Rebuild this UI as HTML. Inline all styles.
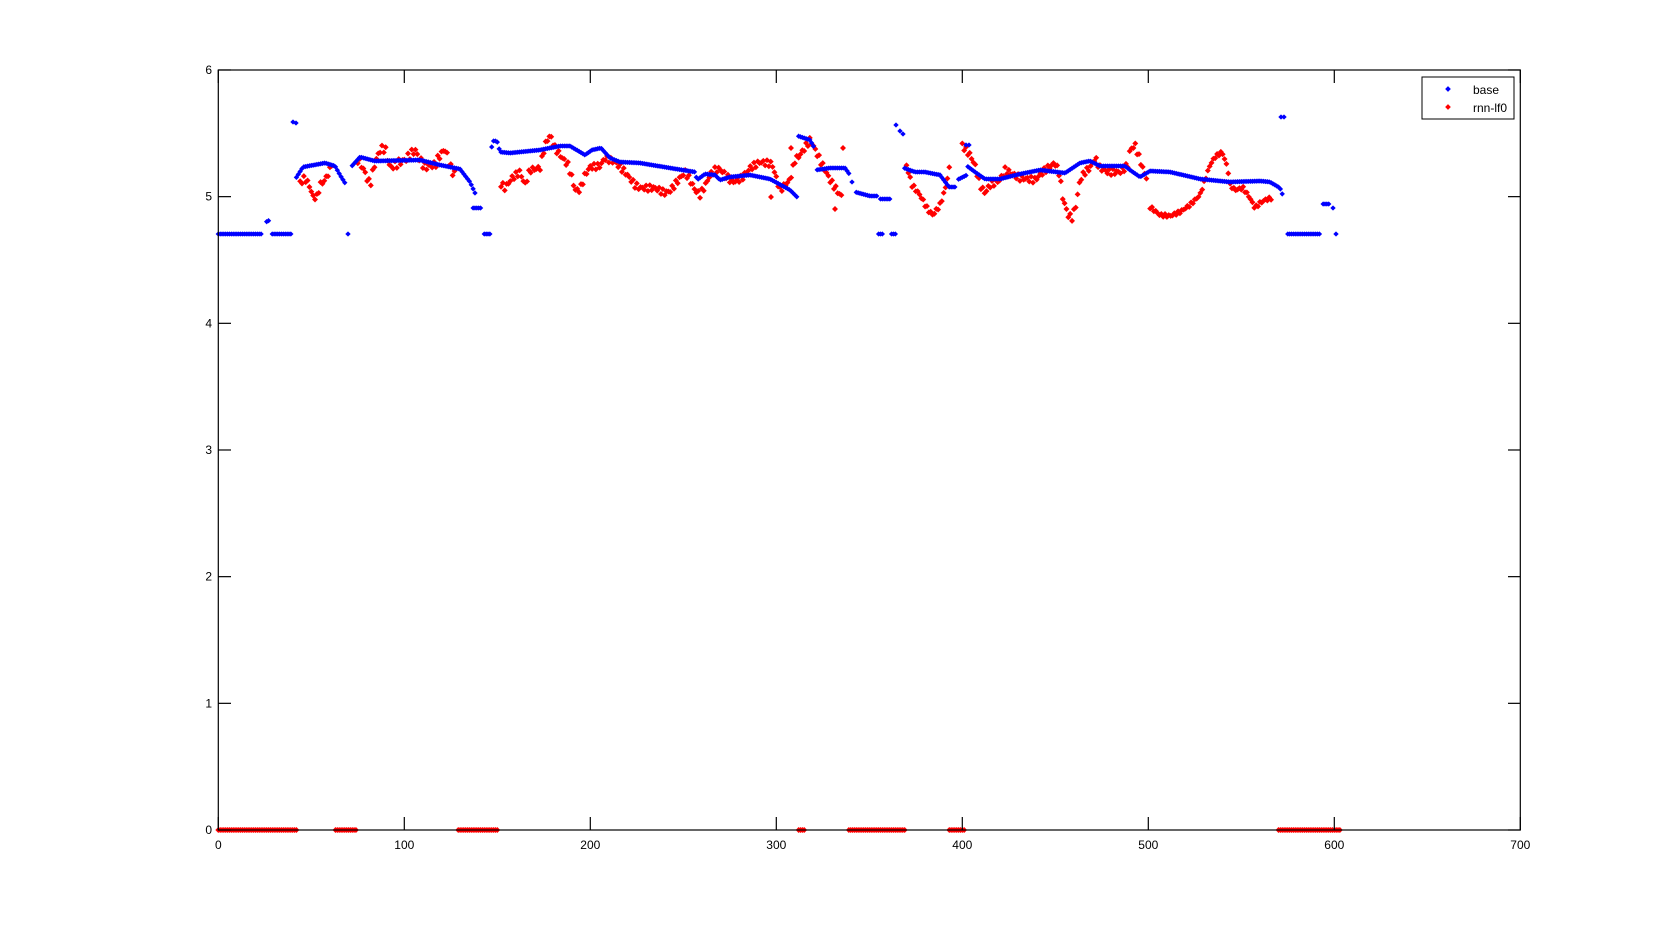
<!DOCTYPE html>
<html><head><meta charset="utf-8"><style>
html,body{margin:0;padding:0;background:#fff;}
svg{display:block;font-family:"Liberation Sans",sans-serif;}
</style></head><body>
<svg id="s" width="1680" height="933" xmlns="http://www.w3.org/2000/svg">
<rect width="1680" height="933" fill="#fff"/>
<g id="pts"></g>
<rect x="218.3" y="70" width="1302" height="760" fill="none" stroke="#000" stroke-width="1.2"/>
<g id="ax" stroke="#000" stroke-width="1.2"></g>
<g id="lab" font-size="12" fill="#000"></g>
<rect x="1422" y="77" width="92" height="42" fill="#fff" stroke="#000" stroke-width="1"/>
<rect x="1446" y="87" width="4" height="4" fill="#0000ff" transform="rotate(45 1448 89)"/>
<rect x="1446" y="105" width="4" height="4" fill="#ff0000" transform="rotate(45 1448 107)"/>
<text x="1473" y="94" font-size="12">base</text>
<text x="1473" y="112" font-size="12">rnn-lf0</text>
</svg>
<script>
var NS="http://www.w3.org/2000/svg";
var X0=218.3,SX=1.86,Y0=830,SY=126.67;
var ax=document.getElementById('ax'),lab=document.getElementById('lab'),pts=document.getElementById('pts');
function el(t,a,p){var e=document.createElementNS(NS,t);for(var k in a)e.setAttribute(k,a[k]);p.appendChild(e);return e;}
for(var i=0;i<=7;i++){var x=X0+i*100*SX;
 el('line',{x1:x,y1:830,x2:x,y2:817},ax);el('line',{x1:x,y1:70,x2:x,y2:83},ax);
 var t=el('text',{x:x,y:849,'text-anchor':'middle'},lab);t.textContent=i*100;}
for(var j=0;j<=6;j++){var y=Y0-j*SY;
 el('line',{x1:218.3,y1:y,x2:231,y2:y},ax);el('line',{x1:1520.3,y1:y,x2:1508,y2:y},ax);
 var t=el('text',{x:212,y:y+4,'text-anchor':'end'},lab);t.textContent=j;}
function dot(px,py,c){var s=(c=='#0000ff')?1.9:2.1;el('rect',{x:px-s,y:py-s,width:2*s,height:2*s,fill:c,transform:'rotate(45 '+px+' '+py+')'},pts);}
function seg(ctrl,c,jit){
 var a=ctrl[0][0],b=ctrl[ctrl.length-1][0];
 var i0=Math.ceil((a-X0)/SX),i1=Math.floor((b-X0)/SX);
 for(var i=i0;i<=i1;i++){var px=X0+i*SX;var k=0;
  while(k<ctrl.length-2&&ctrl[k+1][0]<px)k++;
  var p=ctrl[k],q=ctrl[k+1];var f=(q[0]==p[0])?0:(px-p[0])/(q[0]-p[0]);
  var py=p[1]+(q[1]-p[1])*f;
  if(jit)py+=Math.sin(i*2.7)*jit;
  dot(px,py,c);}
}
function flat(a,b,py,c){seg([[a,py],[b,py]],c,0);}
var B='#0000ff',R='#ff0000';
[[218,298],[334,356],[457,498],[797,806],[847,905],[948,965],[1278,1341]].forEach(function(s){flat(s[0],s[1],830,R);});
seg([[299,178],[300,183],[305,178],[310,187],[313,197],[317,197],[320,185],[325,180],[330,170],[333,158]],R,3);
seg([[357,158],[363,168],[367,178],[370,185],[375,163],[380,150],[385,148],[390,168],[400,162],[405,160],[415,150],[420,160],[425,167],[435,165],[440,155],[445,149],[452,172],[455,173]],R,4);
seg([[500,183],[505,188],[512,178],[520,172],[525,185],[530,170],[540,168],[545,145],[550,135],[555,148],[560,155],[568,165],[572,178],[575,190],[580,190],[585,175],[590,167],[600,166],[605,158],[615,162],[625,172],[635,185],[640,188],[655,188],[665,193],[670,191],[680,178],[685,172],[690,180],[695,190],[700,195],[705,186],[710,175],[715,170],[720,169],[730,180],[733,182],[742,178],[750,168],[760,162],[772,164],[780,190],[790,180],[795,160],[800,155],[810,140],[813,145],[820,160],[830,180],[840,195],[843,197]],R,3);
dot(835,209,R);dot(791,148,R);dot(843,148,R);dot(771,197,R);
seg([[905,160],[912,185],[920,195],[928,210],[933,215],[940,205],[945,190],[950,165]],R,2);
seg([[962,145],[970,155],[975,165],[980,185],[985,193],[990,185],[1000,180],[1005,170],[1020,178],[1035,180],[1045,170],[1055,163],[1060,175],[1062,195],[1068,215],[1072,218],[1076,205],[1080,180],[1085,172],[1090,168],[1095,158],[1100,168],[1108,172],[1120,172],[1128,165],[1130,150],[1135,145],[1140,160],[1145,175],[1148,180]],R,3);
seg([[1150,207],[1160,215],[1170,216],[1180,212],[1190,205],[1200,195],[1205,180],[1210,165],[1215,157],[1222,152],[1225,160],[1228,170],[1230,185],[1235,190],[1243,188],[1250,198],[1255,208],[1260,203],[1265,200],[1272,198]],R,1.5);
flat(218,262,234,B);seg([[266,222],[270,220]],B,0);flat(272,291,234,B);
dot(293,122,B);dot(296,123,B);
seg([[296,178],[303,167],[325,163],[335,166],[340,175],[345,183]],B,0);
dot(348,234,B);
seg([[351,167],[360,157],[375,161],[420,160],[440,165],[460,169],[463,173],[470,182],[475,193]],B,0);
flat(472,482,208,B);flat(483,490,234,B);
seg([[490,155],[493,141],[497,141],[500,152],[510,153],[540,150],[560,146],[570,146],[585,155],[592,150],[601,148],[610,158],[620,162],[640,163],[670,168],[695,172],[697,180],[705,174],[715,175],[720,180],[730,177],[750,175],[770,179],[790,190],[797,197]],B,0);
seg([[798,136],[810,140],[815,149]],B,0);
seg([[816,170],[830,168],[845,168],[850,175]],B,0);dot(852,182,B);
seg([[855,192],[870,196],[877,196]],B,0);seg([[880,199],[890,199]],B,0);
flat(878,883,234,B);flat(890,896,234,B);
dot(896,125,B);dot(900,131,B);dot(903,134,B);
seg([[904,168],[915,172],[925,172],[940,175],[946,183],[949,187],[955,187]],B,0);
seg([[957,180],[967,175]],B,0);dot(966,145,B);dot(969,145,B);
seg([[967,166],[975,172],[985,179],[1000,179],[1020,174],[1040,170],[1065,173],[1080,163],[1090,161],[1100,166],[1125,166],[1130,170],[1140,177],[1150,171],[1170,172],[1200,179],[1230,182],[1260,181],[1270,182],[1275,185],[1280,188],[1283,196]],B,0);
dot(1281,117,B);dot(1284,117,B);
flat(1286,1320,234,B);flat(1322,1330,204,B);dot(1333,208,B);dot(1336,234,B);
</script>
</body></html>
